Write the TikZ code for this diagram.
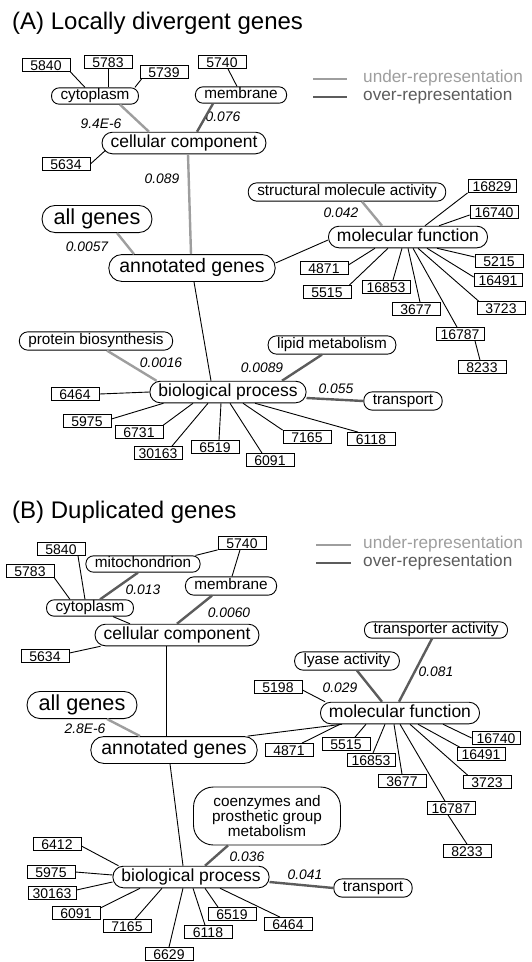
\documentclass[tikz,border=0pt]{standalone}
\usepackage{fontspec}
\setmainfont{Liberation Sans}
\usepackage{tikz}
\definecolor{lgray}{gray}{0.62}
\definecolor{dgray}{gray}{0.36}
\tikzset{
  cat/.style={draw,line width=0.9pt,rounded corners=8.5pt,font=\fontsize{15.3}{15.3}\selectfont,text height=11pt,text depth=3.3pt,inner xsep=9pt,inner ysep=2pt},
  catlow/.style={cat,rounded corners=7.5pt,inner ysep=1pt},
  main/.style={draw,line width=0.9pt,rounded corners=10.5pt,font=\fontsize{17.5}{17.5}\selectfont,text height=12.6pt,text depth=3.8pt,inner xsep=8.5pt,inner ysep=2.6pt},
  annot/.style={draw,line width=0.9pt,rounded corners=13pt,font=\fontsize{19.5}{19.5}\selectfont,text height=14pt,text depth=4.1pt,inner xsep=10.5pt,inner ysep=4.4pt},
  allg/.style={draw,line width=0.9pt,rounded corners=13pt,font=\fontsize{21.7}{21.7}\selectfont,text height=15.6pt,text depth=4.5pt,inner xsep=11.5pt,inner ysep=3.5pt},
  blob/.style={draw,line width=0.9pt,rounded corners=20pt,align=center,font=\fontsize{15.3}{15}\selectfont,minimum width=147pt,minimum height=58pt},
  gid/.style={draw,line width=0.8pt,font=\fontsize{14}{14}\selectfont,minimum width=48pt,text height=10pt,text depth=0pt,inner xsep=0pt,inner ysep=1.5pt},
  pv/.style={font=\fontsize{13.8}{13.8}\selectfont\itshape,inner sep=0pt},
  ttl/.style={anchor=west,inner sep=0pt,font=\fontsize{24}{24}\selectfont},
  leg/.style={anchor=west,inner sep=0pt,font=\fontsize{17.2}{17.2}\selectfont},
  under/.style={draw=lgray,line width=2.4pt},
  over/.style={draw=dgray,line width=2.4pt},
  tie/.style={draw=black,line width=0.9pt},
}
\begin{document}
\begin{tikzpicture}[x=1pt,y=-1pt]
\useasboundingbox (0,0) rectangle (531,962);

\node[ttl] (tA) at (12,23) {(A) Locally divergent genes};
\coordinate (uA1) at (313,79); \coordinate (uA2) at (347,79);
\coordinate (oA1) at (313,97); \coordinate (oA2) at (347,97);
\draw[under] (uA1) -- (uA2);
\draw[over] (oA1) -- (oA2);
\node[leg,text=lgray] (luA) at (363,78) {under-representation};
\node[leg,text=dgray] (loA) at (363,96) {over-representation};

\node[gid] (b5840A) at (46,65) {5840};
\node[gid] (b5783A) at (108,62) {5783};
\node[gid] (b5739A) at (164,72) {5739};
\node[gid] (b5740A) at (222,62) {5740};
\node[catlow] (cytoA) at (95,96) {cytoplasm};
\node[catlow] (membA) at (241,95) {membrane};
\node[main] (ccA) at (184,143) {cellular component};
\node[gid] (b5634A) at (66,164) {5634};
\node[allg] (allA) at (97,219) {all genes};
\node[annot] (agA) at (192,268) {annotated genes};
\node[cat] (smaA) at (347,192) {structural molecule activity};
\node[main] (mfA) at (408,237) {molecular function};
\node[gid] (b16829A) at (492,186) {16829};
\node[gid] (b16740A) at (494,212) {16740};
\node[gid] (b5215A) at (499,261) {5215};
\node[gid] (b16491A) at (498,280) {16491};
\node[gid] (b3723A) at (501,308) {3723};
\node[gid] (b16787A) at (460,334) {16787};
\node[gid] (b8233A) at (482,367) {8233};
\node[gid] (b3677A) at (416,309) {3677};
\node[gid] (b16853A) at (386,287) {16853};
\node[gid] (b5515A) at (327,292) {5515};
\node[gid] (b4871A) at (324,268) {4871};
\node[cat] (pbA) at (96,341) {protein biosynthesis};
\node[cat] (lipA) at (332,345) {lipid metabolism};
\node[main] (bpA) at (228,392) {biological process};
\node[cat] (trA) at (403,401) {transport};
\node[gid] (b6464A) at (75,394) {6464};
\node[gid] (b5975A) at (87,421) {5975};
\node[gid] (b6731A) at (139,432) {6731};
\node[gid] (b30163A) at (158,453) {30163};
\node[gid] (b6519A) at (215,447) {6519};
\node[gid] (b6091A) at (270,460) {6091};
\node[gid] (b7165A) at (307,437) {7165};
\node[gid] (b6118A) at (371,439) {6118};

\node[pv] (p1A) at (101,124) {9.4E-6};
\node[pv] (p2A) at (223,117) {0.076};
\node[pv] (p3A) at (162,179) {0.089};
\node[pv] (p4A) at (87,247) {0.0057};
\node[pv] (p5A) at (341,213) {0.042};
\node[pv] (p6A) at (161,363) {0.0016};
\node[pv] (p7A) at (262,368) {0.0089};
\node[pv] (p8A) at (336,389) {0.055};

\draw[tie] (b5840A.south east) -- ([xshift=-10pt]cytoA.north);
\draw[tie] (b5783A.south) -- ([xshift=13pt]cytoA.north);
\draw[tie] ([xshift=2pt]b5739A.south west) -- ([xshift=-4pt]cytoA.north east);
\draw[tie] ([xshift=6pt]b5740A.south) -- ([xshift=-4pt]membA.north);
\draw[under] ([xshift=25pt]cytoA.south) -- ([xshift=-35pt]ccA.north);
\draw[over] ([xshift=-28pt]membA.south) -- ([xshift=13pt]ccA.north);
\draw[tie] (b5634A.east) -- ([xshift=4pt,yshift=4pt]ccA.south west);
\draw[under] ([xshift=4pt]ccA.south) -- ([xshift=-1pt]agA.north);
\draw[under] ([xshift=20pt]allA.south) -- ([xshift=-58pt]agA.north);
\draw[tie] ([yshift=5pt]agA.east) -- ([yshift=-3pt]mfA.west);
\draw[tie] ([xshift=2pt]agA.south) -- ([xshift=-17pt]bpA.north);
\draw[under] ([xshift=15pt]smaA.south) -- ([xshift=-26pt]mfA.north);
\draw[tie] ([xshift=17pt]mfA.north) -- (b16829A.south west);
\draw[tie] ([xshift=31pt]mfA.north) -- ([yshift=-3pt]b16740A.west);
\draw[tie] ([xshift=29pt]mfA.south) -- ([yshift=4pt]b5215A.west);
\draw[tie] ([xshift=19pt]mfA.south) -- ([yshift=3pt]b16491A.west);
\draw[tie] ([xshift=10pt]mfA.south) -- ([xshift=2pt]b3723A.north west);
\draw[tie] ([xshift=5pt]mfA.south) -- ([xshift=-3pt]b16787A.north);
\draw[tie] (mfA.south) -- ([xshift=4pt]b3677A.north);
\draw[tie] ([xshift=-6pt]mfA.south) -- ([xshift=7pt]b16853A.north);
\draw[tie] ([xshift=-20pt]mfA.south) -- ([xshift=-2pt]b5515A.north east);
\draw[tie] ([xshift=-33pt]mfA.south) -- ([yshift=3pt]b4871A.east);
\draw[tie] ([xshift=15pt]b16787A.south) -- ([xshift=-2pt]b8233A.north);
\draw[under] ([xshift=11pt]pbA.south) -- ([xshift=7pt]bpA.north west);
\draw[over] ([xshift=-10pt]lipA.south) -- ([xshift=54pt]bpA.north);
\draw[over] ([yshift=-6pt]bpA.east) -- (trA.west);
\draw[tie] (b6464A.east) -- (bpA.west);
\draw[tie] ([yshift=2pt]b5975A.east) -- ([xshift=14pt]bpA.south west);
\draw[tie] (b6731A.north east) -- ([xshift=-35pt]bpA.south);
\draw[tie] ([xshift=14pt]b30163A.north) -- ([xshift=-20pt]bpA.south);
\draw[tie] ([xshift=4pt]b6519A.north) -- ([xshift=-7pt]bpA.south);
\draw[tie] ([xshift=-8pt]b6091A.north) -- ([xshift=2pt]bpA.south);
\draw[tie] (b7165A.north west) -- ([xshift=15pt]bpA.south);
\draw[tie] ([xshift=-13pt]b6118A.north) -- ([xshift=27pt]bpA.south);

\node[ttl] (tB) at (12,512) {(B) Duplicated genes};
\coordinate (uB1) at (316,545); \coordinate (uB2) at (351,545);
\coordinate (oB1) at (316,563); \coordinate (oB2) at (351,563);
\draw[under] (uB1) -- (uB2);
\draw[over] (oB1) -- (oB2);
\node[leg,text=lgray] (luB) at (363,544) {under-representation};
\node[leg,text=dgray] (loB) at (363,562) {over-representation};

\node[gid] (b5840B) at (61,549) {5840};
\node[gid] (b5783B) at (30,571) {5783};
\node[catlow] (mitoB) at (143,564) {mitochondrion};
\node[gid] (b5740B) at (242,543) {5740};
\node[cat] (membB) at (231,586) {membrane};
\node[catlow] (cytoB) at (90,608) {cytoplasm};
\node[main] (ccB) at (177,635) {cellular component};
\node[gid] (b5634B) at (45,656) {5634};
\node[allg] (allB) at (82,705) {all genes};
\node[annot] (agB) at (174,750) {annotated genes};
\node[catlow] (trAcB) at (436,630) {transporter activity};
\node[cat] (lyB) at (347,661) {lyase activity};
\node[gid] (b5198B) at (278,687) {5198};
\node[main] (mfB) at (400,713) {molecular function};
\node[gid] (b16740B) at (496,738) {16740};
\node[gid] (b16491B) at (481,754) {16491};
\node[gid] (b3723B) at (487,782) {3723};
\node[gid] (b16787B) at (451,808) {16787};
\node[gid] (b8233B) at (467,851) {8233};
\node[gid] (b3677B) at (402,781) {3677};
\node[gid] (b16853B) at (371,760) {16853};
\node[gid] (b5515B) at (346,744) {5515};
\node[gid] (b4871B) at (289,750) {4871};
\node[blob] (coB) at (267,816) {coenzymes and\\prosthetic group\\metabolism};
\node[main] (bpB) at (191,877) {biological process};
\node[cat] (trB) at (373,888) {transport};
\node[gid] (b6412B) at (57,844) {6412};
\node[gid] (b5975B) at (51,872) {5975};
\node[gid] (b30163B) at (52,893) {30163};
\node[gid] (b6091B) at (76,913) {6091};
\node[gid] (b7165B) at (127,926) {7165};
\node[gid] (b6629B) at (169,954) {6629};
\node[gid] (b6118B) at (208,932) {6118};
\node[gid] (b6519B) at (232,914) {6519};
\node[gid] (b6464B) at (288,924) {6464};

\node[pv] (p1B) at (143,590) {0.013};
\node[pv] (p2B) at (229,613) {0.0060};
\node[pv] (p3B) at (85,729) {2.8E-6};
\node[pv] (p4B) at (436,672) {0.081};
\node[pv] (p5B) at (340,688) {0.029};
\node[pv] (p6B) at (247,857) {0.036};
\node[pv] (p7B) at (305,875) {0.041};

\draw[tie] ([xshift=17pt]b5840B.south) -- ([xshift=-5pt]cytoB.north);
\draw[tie] (b5783B.south east) -- ([xshift=-20pt]cytoB.north);
\draw[over] ([xshift=-5pt]mitoB.south) -- ([xshift=10pt]cytoB.north);
\draw[tie] (b5740B.south west) -- ([xshift=-5pt]mitoB.north east);
\draw[tie] ([xshift=-2pt]b5740B.south) -- ([xshift=1pt]membB.north);
\draw[over] ([xshift=-19pt]membB.south) -- (ccB.north);
\draw[tie] ([xshift=23pt]cytoB.south) -- ([xshift=-47pt]ccB.north);
\draw[tie] ([yshift=3pt]b5634B.east) -- ([xshift=6pt]ccB.south west);
\draw[tie] ([xshift=-11pt]ccB.south) -- ([xshift=-8pt]agB.north);
\draw[under] ([xshift=25pt]allB.south) -- ([xshift=-34pt]agB.north);
\draw[tie] ([xshift=-10pt]agB.north east) -- ([xshift=-58pt]mfB.south);
\draw[tie] ([xshift=-4pt]agB.south) -- ([xshift=-8pt]bpB.north);
\draw[over] ([xshift=-4pt]trAcB.south) -- ([xshift=-1pt]mfB.north);
\draw[over] ([xshift=10pt]lyB.south) -- ([xshift=-18pt]mfB.north);
\draw[tie] ([yshift=-3pt]b5198B.east) -- ([xshift=5pt]mfB.north west);
\draw[tie] ([xshift=43pt]mfB.south) -- (b16740B.west);
\draw[tie] ([xshift=18pt]mfB.south) -- ([xshift=3pt]b16491B.north west);
\draw[tie] ([xshift=10pt]mfB.south) -- ([xshift=5pt]b3723B.north west);
\draw[tie] (mfB.south) -- ([xshift=-6pt]b16787B.north);
\draw[tie] ([xshift=-6pt]mfB.south) -- (b3677B.north);
\draw[tie] ([xshift=-15pt]mfB.south) -- ([xshift=2pt]b16853B.north);
\draw[tie] ([xshift=-34pt]mfB.south) -- ([xshift=9pt]b5515B.north);
\draw[tie] ([xshift=-60pt]mfB.south) -- ([xshift=13pt]b4871B.north);
\draw[tie] ([xshift=-3pt]b16787B.south) -- (b8233B.north);
\draw[over] ([xshift=-39pt]coB.south) -- ([xshift=14pt]bpB.north);
\draw[over] ([yshift=-5pt]bpB.east) -- (trB.west);
\draw[tie] ([yshift=-2pt]b6412B.east) -- ([xshift=6pt]bpB.north west);
\draw[tie] (b5975B.east) -- ([yshift=2pt]bpB.west);
\draw[tie] ([yshift=3pt]b30163B.east) -- ([yshift=-5pt]bpB.west);
\draw[tie] ([yshift=5pt]b6091B.east) -- ([xshift=-51pt]bpB.south);
\draw[tie] ([xshift=8pt]b7165B.north) -- ([xshift=-29pt]bpB.south);
\draw[tie] (b6629B.north) -- ([xshift=-8pt]bpB.south);
\draw[tie] ([xshift=-3pt]b6118B.north) -- ([xshift=2pt]bpB.south);
\draw[tie] ([xshift=-14pt]b6519B.north) -- ([xshift=14pt]bpB.south);
\draw[tie] ([xshift=-8pt]b6464B.north) -- ([xshift=29pt]bpB.south);
\end{tikzpicture}
\end{document}
